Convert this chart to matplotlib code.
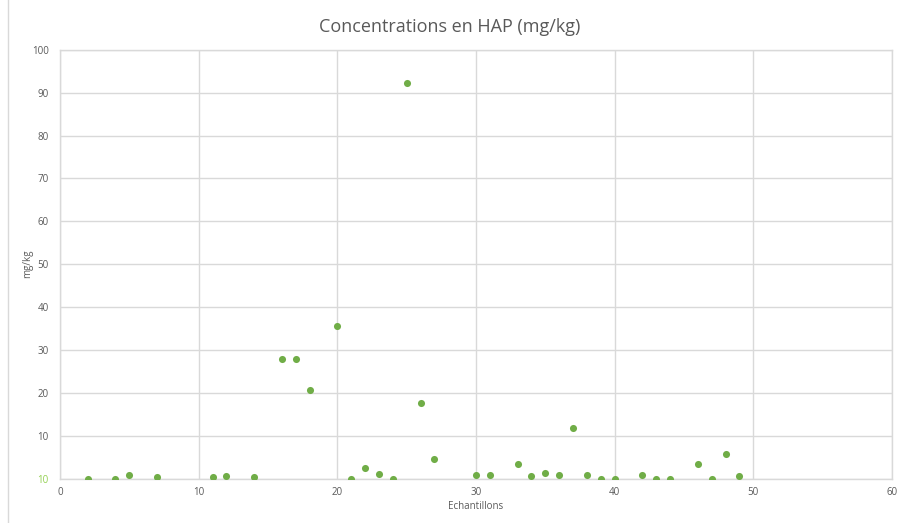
import matplotlib
matplotlib.use("Agg")
import matplotlib.pyplot as plt
from matplotlib.lines import Line2D

# Echantillons (sample number) and HAP concentration (mg/kg)
echantillons = [2, 4, 5, 7, 11, 12, 14, 16, 17, 18, 20, 21, 22, 23, 24, 25, 26, 27,
                30, 31, 33, 34, 35, 36, 37, 38, 39, 40, 42, 43, 44, 46, 47, 48, 49]
hap = [0.0, 0.0, 0.8, 0.4, 0.4, 0.6, 0.5, 28.0, 27.9, 20.6, 35.5, 0.0, 2.4, 1.2, 0.0,
       92.3, 17.6, 4.5, 0.8, 0.8, 3.4, 0.6, 1.3, 0.9, 11.8, 0.9, 0.0, 0.0, 0.8, 0.0,
       0.0, 3.5, 0.0, 5.7, 0.7]

xticks = [0, 10, 20, 30, 40, 50, 60]
yticks = [0, 10, 20, 30, 40, 50, 60, 70, 80, 90, 100]
ylabels = ['10', '10', '20', '30', '40', '50', '60', '70', '80', '90', '100']

GRID = '#d9d9d9'
TXT = '#595959'
GREEN = '#70ad47'

plt.rcParams['font.family'] = ['Open Sans', 'DejaVu Sans']

fig = plt.figure(figsize=(8.99, 5.23), dpi=100)
ax = fig.add_axes([60/899, 1 - 478.7/523, 832/899, 429/523])

ax.scatter(echantillons, hap, s=26, color=GREEN, zorder=3, linewidths=0)

ax.set_xlim(0, 60)
ax.set_ylim(0, 100)
ax.set_xticks(xticks)
ax.set_yticks(yticks)
ax.set_yticklabels(ylabels)

ax.grid(True, color=GRID, linewidth=1)
ax.set_axisbelow(True)
for sp in ax.spines.values():
    sp.set_color(GRID)
    sp.set_linewidth(1)
ax.tick_params(axis='both', length=0, labelsize=7, colors=TXT)
ax.tick_params(axis='x', pad=6)
ax.tick_params(axis='y', pad=8)
ax.get_yticklabels()[0].set_color('#92d050')

ax.set_xlabel('Echantillons', fontsize=7, color=TXT, labelpad=2)
ax.set_ylabel('mg/kg', fontsize=7, color=TXT, labelpad=-1)
fig.text(0.5, 1 - 27/523, 'Concentrations en HAP (mg/kg)', ha='center', va='center',
         fontsize=13, color=TXT)

# left edge of the chart frame
fig.add_artist(Line2D([8/899, 8/899], [0, 1], transform=fig.transFigure,
                      color=GRID, linewidth=1))

plt.savefig('out.png', dpi=100)
